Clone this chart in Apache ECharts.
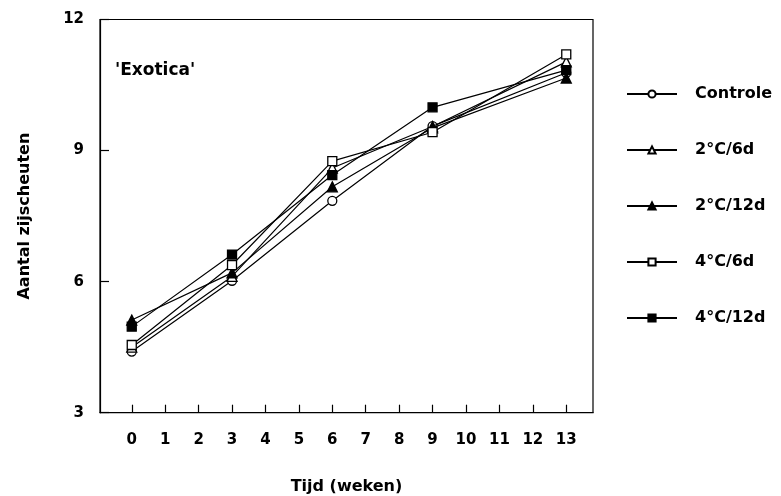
<!DOCTYPE html>
<html>
<head>
<meta charset="utf-8">
<script src="https://cdn.jsdelivr.net/npm/echarts@6/dist/echarts.min.js"></script>
<style>
  html, body { margin: 0; padding: 0; background: #fff; }
  #chart { width: 781px; height: 496px; }
</style>
</head>
<body>
<div id="chart"></div>
<script>
// Sampling moments (weeks) and tick labels
const weeks = [0, 3, 6, 9, 13];
const xTicks = [0, 1, 2, 3, 4, 5, 6, 7, 8, 9, 10, 11, 12, 13];
const yTicks = [3, 6, 9, 12];

// Number of side shoots per treatment
const controle = [4.40, 6.02, 7.85, 9.56, 10.78];
const c2d6 = [4.50, 6.12, 8.60, 9.55, 11.03];
const c2d12 = [5.12, 6.20, 8.17, 9.52, 10.66];
const c4d6 = [4.55, 6.38, 8.76, 9.42, 11.20];
const c4d12 = [4.97, 6.62, 8.44, 9.99, 10.84];

const seriesNames = ['Controle', '2°C/6d', '2°C/12d', '4°C/6d', '4°C/12d'];
const seriesValues = [controle, c2d6, c2d12, c4d6, c4d12];
const symbols = ['circle', 'triangle', 'triangle', 'rect', 'rect'];
const filled = [false, false, true, false, true];

const font = '"DejaVu Sans", "Liberation Sans", Arial, sans-serif';

const chart = echarts.init(document.getElementById('chart'));

const series = seriesNames.map((name, i) => ({
  name: name,
  type: 'line',
  data: weeks.map((w, j) => [w, seriesValues[i][j]]),
  symbol: symbols[i],
  symbolSize: symbols[i] === 'triangle' ? 10 : 9,
  showAllSymbol: true,
  lineStyle: { color: '#000', width: 1.2 },
  itemStyle: {
    color: filled[i] ? '#000' : '#fff',
    borderColor: '#000',
    borderWidth: 1.3
  },
  emphasis: { disabled: true },
  animation: false,
  z: 2 + i
}));

chart.setOption({
  animation: false,
  backgroundColor: '#fff',
  title: {
    text: "'Exotica'",
    left: 110,
    top: 57,
    textStyle: { fontFamily: font, fontWeight: 'bold', fontSize: 17, color: '#000' }
  },
  legend: {
    orient: 'vertical',
    left: 621,
    top: 81,
    itemWidth: 50,
    itemHeight: 9,
    itemGap: 40,
    data: seriesNames,
    textStyle: {
      fontFamily: font, fontWeight: 'bold', fontSize: 16, color: '#000',
      padding: [0, 0, 0, 13]
    },
    selectedMode: false
  },
  grid: {
    left: 100,
    top: 19.5,
    right: 188,
    bottom: 83.3,
    outerBoundsMode: 'none',
    containLabel: false,
    show: true,
    borderColor: '#000',
    borderWidth: 1.2,
    backgroundColor: 'transparent'
  },
  xAxis: {
    type: 'value',
    min: -0.95,
    max: 13.8,
    name: 'Tijd (weken)',
    nameLocation: 'middle',
    nameGap: 66,
    nameTextStyle: { fontFamily: font, fontWeight: 'bold', fontSize: 16, color: '#000' },
    axisLine: { show: true, onZero: false, lineStyle: { color: '#000', width: 1.2 } },
    axisTick: { show: true, inside: true, length: 8, customValues: xTicks, lineStyle: { color: '#000', width: 1.2 } },
    axisLabel: {
      customValues: xTicks,
      margin: 20,
      fontFamily: font, fontWeight: 'bold', fontSize: 15, color: '#000'
    },
    splitLine: { show: false }
  },
  yAxis: {
    type: 'value',
    min: 3,
    max: 12,
    interval: 3,
    name: 'Aantal zijscheuten',
    nameLocation: 'middle',
    nameGap: 67,
    nameTextStyle: { fontFamily: font, fontWeight: 'bold', fontSize: 16, color: '#000' },
    axisLine: { show: true, onZero: false, lineStyle: { color: '#000', width: 1.2 } },
    axisTick: { show: true, inside: true, length: 9, customValues: yTicks, lineStyle: { color: '#000', width: 1.2 } },
    axisLabel: {
      customValues: yTicks,
      margin: 16,
      fontFamily: font, fontWeight: 'bold', fontSize: 15, color: '#000'
    },
    splitLine: { show: false }
  },
  series: series
});
</script>
</body>
</html>
